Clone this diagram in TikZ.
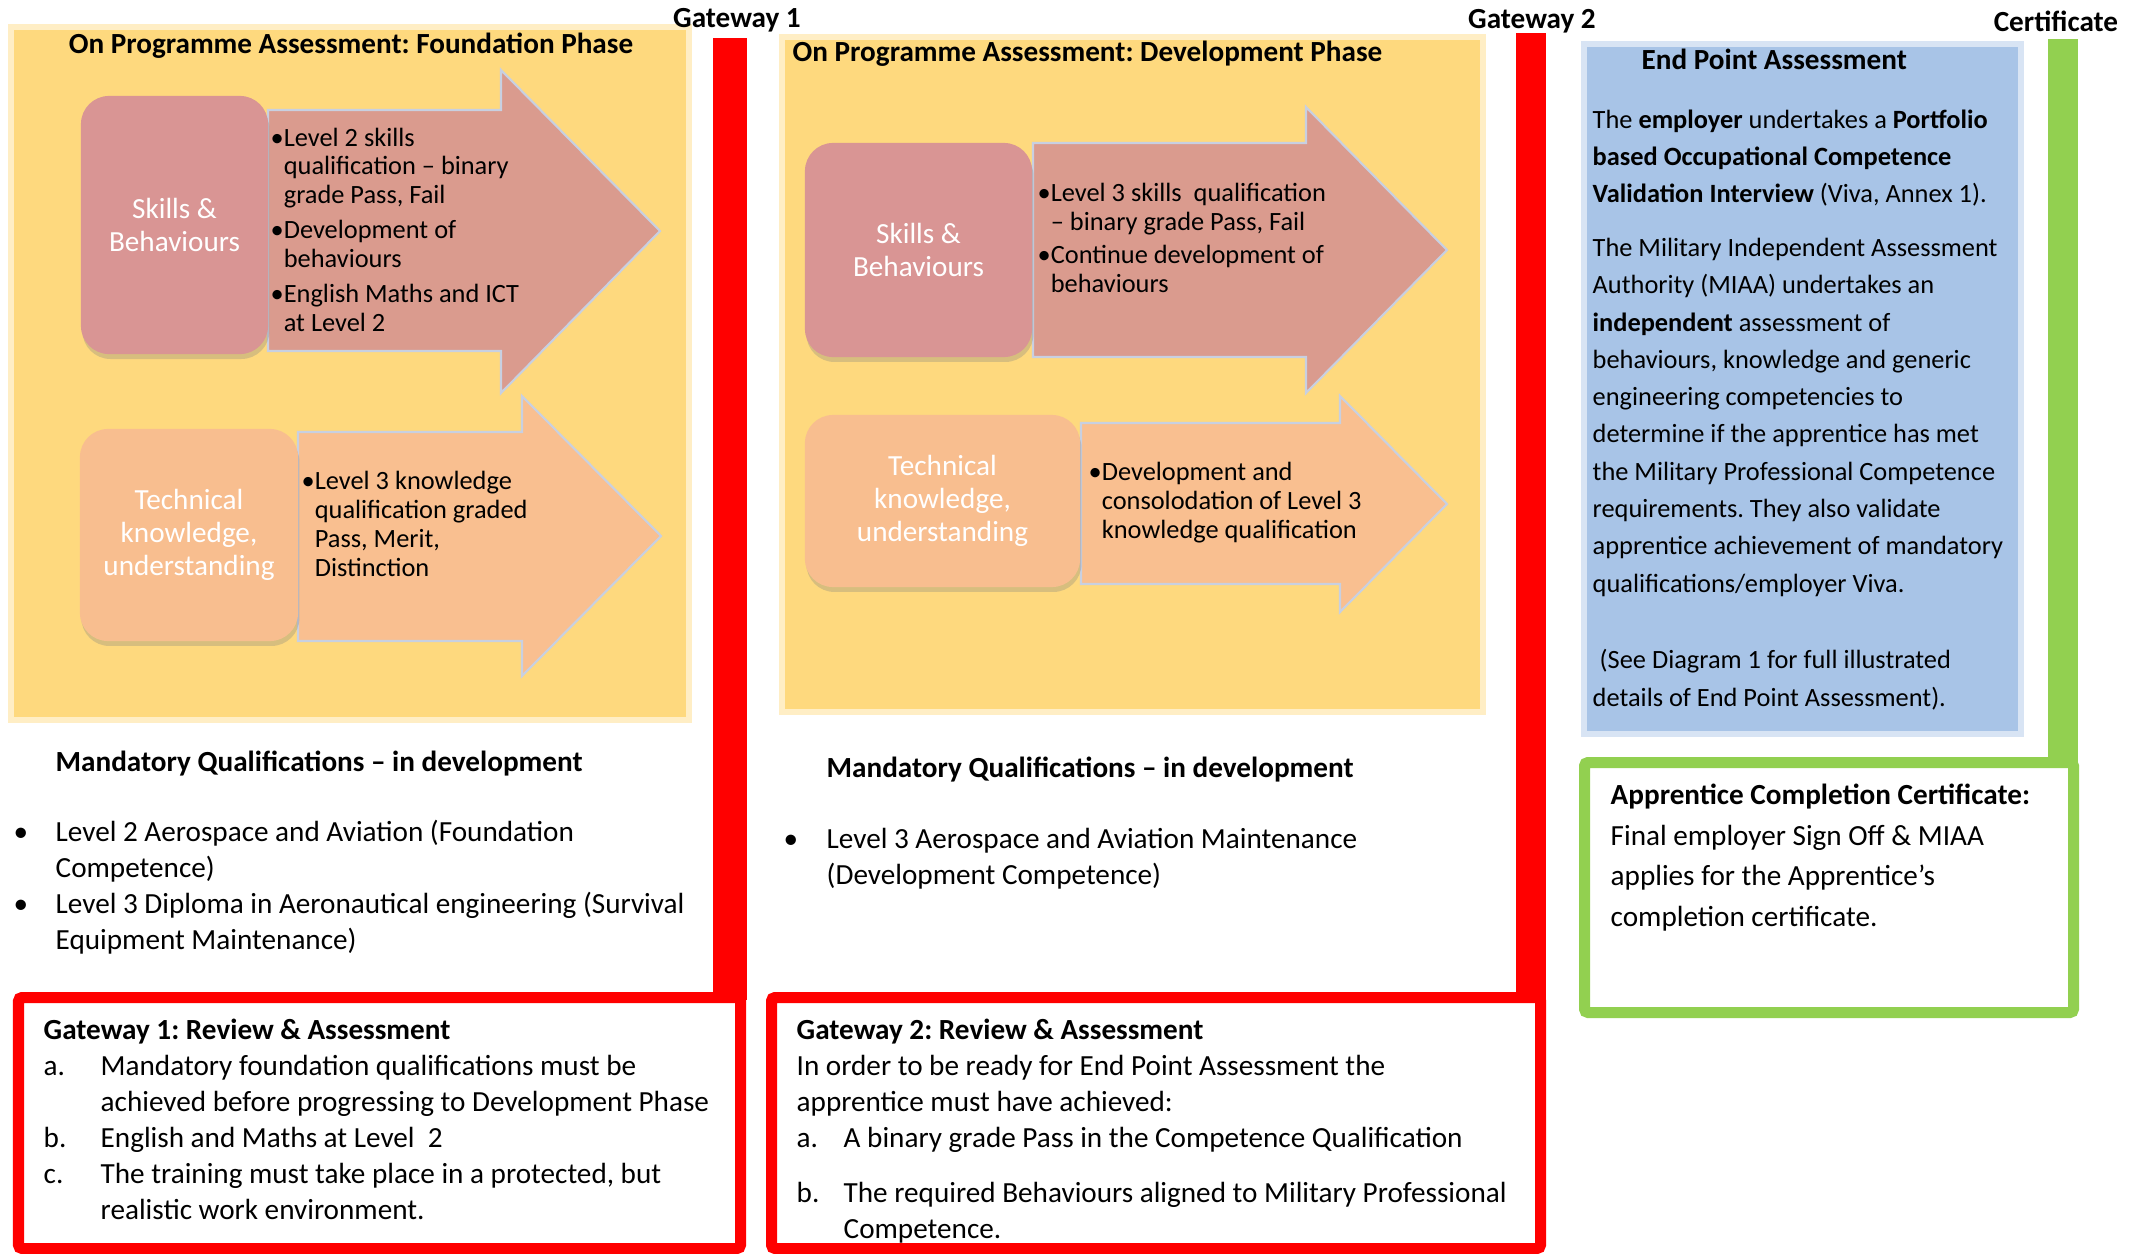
\documentclass[tikz,border=0pt]{standalone}
\usepackage{fontspec}
\setmainfont{Carlito}
\usetikzlibrary{shadows}
\frenchspacing

\definecolor{panelyellow}{HTML}{FED97E}
\definecolor{skillpink}{HTML}{D99594}
\definecolor{skillarrow}{HTML}{DA9B8E}
\definecolor{techpeach}{HTML}{F8BE8F}
\definecolor{techarrow}{HTML}{F9BF90}
\definecolor{arrowedge}{RGB}{200,208,225}
\definecolor{epablue}{HTML}{A8C4E7}
\definecolor{gatered}{HTML}{FF0000}
\definecolor{certgreen}{HTML}{92D050}

\newcommand\mainsize{\fontsize{8.3}{10.2}\selectfont}
\newcommand\boxsize{\fontsize{8.3}{9.3}\selectfont}
\newcommand\arrowsize{\fontsize{7.5}{8.2}\selectfont}
\newcommand\eposize{\fontsize{7.5}{10.6}\selectfont}
\newcommand\certsize{\fontsize{8.3}{11.5}\selectfont}
\newcommand\hang{\phantom{\textbullet}}

\begin{document}
\begin{tikzpicture}[x=0.01cm, y=-0.01cm,
	panel/.style={fill=#1, draw=#1!45!white, line width=0.06cm},
	phasebox/.style={rounded corners=8pt, text=white, align=center, font=\boxsize,
		drop shadow={opacity=0.3, shadow xshift=0.4pt, shadow yshift=-1.4pt}},
	phasearrow/.style={fill=#1, draw=arrowedge, line width=0.6pt},
	arrowtext/.style={anchor=base west, align=left, inner sep=0pt, font=\arrowsize},
	plaintext/.style={anchor=base west, align=left, inner sep=0pt, font=\mainsize},
	headtext/.style={inner sep=0pt, font=\mainsize\bfseries},
	gateframe/.style={draw=#1, line width=0.11cm, fill=white, rounded corners=1pt}]
	\useasboundingbox (0,0) rectangle (2141,1254);

	% phase panels
	\draw[panel=panelyellow] (11,27) rectangle (689,720);
	\draw[panel=panelyellow] (782,37) rectangle (1483,712);
	\draw[panel=epablue] (1584,44) rectangle (2021,734);

	\node[headtext, anchor=base] (title1) at (351,53) {On Programme Assessment: Foundation Phase};
	\node[headtext, anchor=base west] (title2) at (792,61) {On Programme Assessment: Development Phase};

	% foundation phase
	\draw[phasearrow=skillarrow] (268,110) -- (501,110) -- (501,70) -- (660,231) -- (501,393) -- (501,351) -- (268,351) -- cycle;
	\draw[phasearrow=techarrow] (298,432) -- (522,432) -- (522,396) -- (661,536) -- (522,676) -- (522,641) -- (298,641) -- cycle;
	\node[phasebox, fill=skillpink, minimum width=1.87cm, minimum height=2.58cm] (skills1) at (174.5,225) {Skills \&\\Behaviours};
	\node[phasebox, fill=techpeach, minimum width=2.18cm, minimum height=2.12cm] (tech1) at (189,535) {Technical\\knowledge,\\understanding};
	\node[arrowtext] (skillsitems1) at (270,331) {\textbullet Level 2 skills\\
		\hang qualification – binary\\
		\hang grade Pass, Fail\\[1.7pt]
		\textbullet Development of\\
		\hang behaviours\\[1.7pt]
		\textbullet English Maths and ICT\\
		\hang at Level 2};
	\node[arrowtext] (techitems1) at (301,576) {\textbullet Level 3 knowledge\\
		\hang qualification graded\\
		\hang Pass, Merit,\\
		\hang Distinction};

	% development phase
	\draw[phasearrow=skillarrow] (1033,143) -- (1306,143) -- (1306,107) -- (1447,250) -- (1306,393) -- (1306,357) -- (1033,357) -- cycle;
	\draw[phasearrow=techarrow] (1081,423) -- (1340,423) -- (1340,396) -- (1447,504) -- (1340,612) -- (1340,584) -- (1081,584) -- cycle;
	\node[phasebox, fill=skillpink, minimum width=2.27cm, minimum height=2.14cm] (skills2) at (918.5,250) {Skills \&\\Behaviours};
	\node[phasebox, fill=techpeach, minimum width=2.75cm, minimum height=1.72cm] (tech2) at (942.5,501) {Technical\\knowledge,\\understanding};
	\node[arrowtext] (skillsitems2) at (1037,292) {\textbullet Level 3 skills~ qualification\\
		\hang – binary grade Pass, Fail\\[1.2pt]
		\textbullet Continue development of\\
		\hang behaviours};
	\node[arrowtext] (techitems2) at (1088,538) {\textbullet Development and\\
		\hang consolodation of Level 3\\
		\hang knowledge qualification};

	% mandatory qualifications
	\node[headtext, anchor=base west] (mand1) at (55,771) {Mandatory Qualifications – in development};
	\node[plaintext] (mandlist1) at (13,949) {\makebox[0.42cm][l]{\textbullet}Level 2 Aerospace and Aviation (Foundation\\
		\hspace*{0.42cm}Competence)\\
		\makebox[0.42cm][l]{\textbullet}Level 3 Diploma in Aeronautical engineering (Survival\\
		\hspace*{0.42cm}Equipment Maintenance)};
	\node[headtext, anchor=base west] (mand2) at (826,777) {Mandatory Qualifications – in development};
	\node[plaintext] (mandlist2) at (783,884) {\makebox[0.43cm][l]{\textbullet}Level 3 Aerospace and Aviation Maintenance\\
		\hspace*{0.43cm}(Development Competence)};

	% gateways and certificate
	\draw[gateframe=gatered] (18.5,997.5) rectangle (740.5,1248.5);
	\draw[gateframe=gatered] (771.5,997.5) rectangle (1540.5,1248.5);
	\draw[gateframe=certgreen] (1584.5,762.5) rectangle (2073.5,1012.5);
	\fill[gatered] (713,38) rectangle (747,1000);
	\fill[gatered] (1516,33) rectangle (1546,1000);
	\fill[certgreen] (2048,39) rectangle (2078,765);
	\node[headtext, anchor=base] (gate1) at (737,27) {Gateway 1};
	\node[headtext, anchor=base] (gate2) at (1532,28) {Gateway 2};
	\node[headtext, anchor=base] (cert) at (2056,31) {Certificate};

	\node[plaintext] (review1) at (43,1219) {\textbf{Gateway 1: Review \& Assessment}\\
		\makebox[0.57cm][l]{a.}Mandatory foundation qualifications must be\\
		\hspace*{0.57cm}achieved before progressing to Development Phase\\
		\makebox[0.57cm][l]{b.}English and Maths at Level~ 2\\
		\makebox[0.57cm][l]{c.}The training must take place in a protected, but\\
		\hspace*{0.57cm}realistic work environment.};
	\node[plaintext] (review2) at (796,1238) {\textbf{Gateway 2: Review \& Assessment}\\
		In order to be ready for End Point Assessment the\\
		apprentice must have achieved:\\
		\makebox[0.47cm][l]{a.}A binary grade Pass in the Competence Qualification\\[5.4pt]
		\makebox[0.47cm][l]{b.}The required Behaviours aligned to Military Professional\\
		\hspace*{0.47cm}Competence.};

	% end point assessment
	\node[headtext, anchor=base west] (epahead) at (1641,69) {End Point Assessment};
	\node[anchor=base west, align=left, inner sep=0pt, font=\eposize] (epatext) at (1592,706) {The \textbf{employer} undertakes a \textbf{Portfolio}\\
		\textbf{based Occupational Competence}\\
		\textbf{Validation Interview} (Viva, Annex 1).\\[4.7pt]
		The Military Independent Assessment\\
		Authority (MIAA) undertakes an\\
		\textbf{independent} assessment of\\
		behaviours, knowledge and generic\\
		engineering competencies to\\
		determine if the apprentice has met\\
		the Military Professional Competence\\
		requirements. They also validate\\
		apprentice achievement of mandatory\\
		qualifications/employer Viva.\\[11.2pt]
		\hspace*{2pt}(See Diagram 1 for full illustrated\\
		details of End Point Assessment).};
	\node[anchor=base west, align=left, inner sep=0pt, font=\certsize] (certtext) at (1610,926) {\textbf{Apprentice Completion Certificate:}\\
		Final employer Sign Off \& MIAA\\
		applies for the Apprentice’s\\
		completion certificate.};
\end{tikzpicture}
\end{document}
